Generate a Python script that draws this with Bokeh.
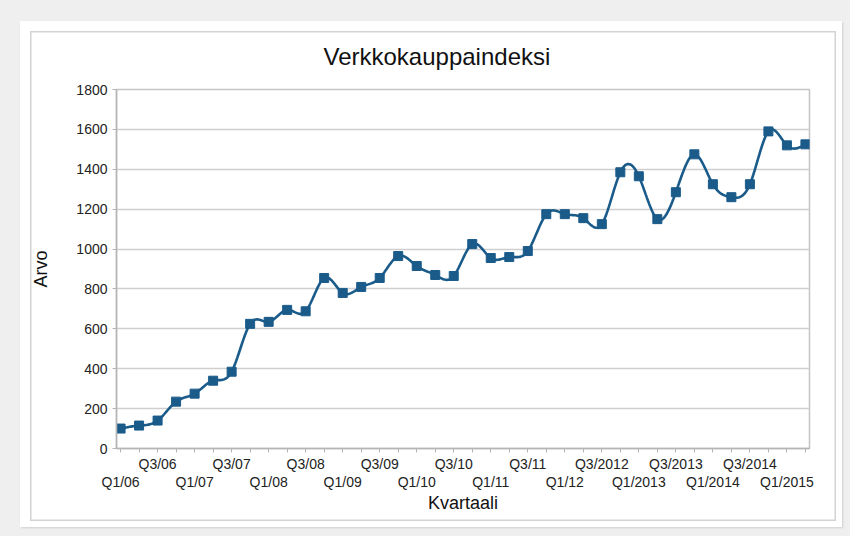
import numpy as np
from bokeh.plotting import figure
from bokeh.models import LinearAxis, FixedTicker, Range1d, ColumnDataSource
from bokeh.layouts import column
from bokeh.embed import file_html
from bokeh.resources import INLINE

# ---- data ----
values = [100, 115, 140, 235, 275, 340, 385, 625, 635, 695,
          688, 855, 780, 810, 855, 965, 915, 870, 865, 1025,
          955, 960, 990, 1175, 1175, 1155, 1125, 1385, 1365, 1150,
          1285, 1475, 1325, 1260, 1325, 1590, 1520, 1525]
q1_labels = ["Q1/06", "Q1/07", "Q1/08", "Q1/09", "Q1/10", "Q1/11", "Q1/12",
             "Q1/2013", "Q1/2014", "Q1/2015"]
q3_labels = ["Q3/06", "Q3/07", "Q3/08", "Q3/09", "Q3/10", "Q3/11", "Q3/2012",
             "Q3/2013", "Q3/2014"]
y_ticks = [0, 200, 400, 600, 800, 1000, 1200, 1400, 1600, 1800]

title_text = "Verkkokauppaindeksi"
x_title = "Kvartaali"
y_title = "Arvo"

FONT = "Liberation Sans"
BLUE = "#1a5b8a"
W, H = 822, 506

n = len(values)
xs = np.arange(n, dtype=float)
ys = np.array(values, dtype=float)

# natural cubic spline for the smoothed line through the points
A = np.zeros((n, n))
b = np.zeros(n)
A[0, 0] = 1
A[-1, -1] = 1
for i in range(1, n - 1):
    A[i, i - 1] = 1
    A[i, i] = 4
    A[i, i + 1] = 1
    b[i] = 6 * (ys[i + 1] - 2 * ys[i] + ys[i - 1])
M = np.linalg.solve(A, b)
sx, sy = [], []
for i in range(n - 1):
    for t in np.linspace(0, 1, 16, endpoint=False):
        sx.append(i + t)
        sy.append((1 - t) * ys[i] + t * ys[i + 1]
                  + ((1 - t) ** 3 - (1 - t)) * M[i] / 6
                  + (t ** 3 - t) * M[i + 1] / 6)
sx.append(xs[-1])
sy.append(ys[-1])

p = figure(width=W, height=H, output_backend="svg", toolbar_location=None,
           x_range=Range1d(-0.22, n - 1 + 0.22), y_range=Range1d(0, 1800),
           x_axis_type=None,
           min_border_left=96, min_border_right=33, min_border_top=67, min_border_bottom=79,
           background_fill_color="white", border_fill_color=None,
           outline_line_color="#c4c4c4", outline_line_width=1.5)

p.title.text = title_text
p.title.text_font = FONT
p.title.text_font_size = "24px"
p.title.text_font_style = "normal"
p.title.text_color = "#111111"
p.title.align = "left"
p.title.offset = 207
p.title.standoff = 39

# y axis
ya = p.yaxis[0]
ya.ticker = FixedTicker(ticks=y_ticks)
ya.axis_label = y_title
ya.axis_label_text_font = FONT
ya.axis_label_text_font_size = "18px"
ya.axis_label_text_font_style = "normal"
ya.axis_label_text_color = "#111111"
ya.axis_label_standoff = 22
ya.major_label_text_font = FONT
ya.major_label_text_font_size = "14px"
ya.major_label_text_color = "#222222"
ya.major_label_standoff = 5
ya.major_tick_in = 0
ya.major_tick_out = 4
ya.minor_tick_line_color = None
ya.axis_line_color = "#b5b5b5"
ya.axis_line_width = 1.5
ya.major_tick_line_color = "#b5b5b5"

p.ygrid.ticker = FixedTicker(ticks=y_ticks)
p.ygrid.grid_line_color = "#cfcfcf"
p.ygrid.grid_line_width = 1.5

# x axis (upper row: Q3 labels, tick at every quarter)
q1_idx = [i for i in range(0, n, 4)][:len(q1_labels)]
q3_idx = [i for i in range(2, n, 4)][:len(q3_labels)]

over_a = {i: "" for i in range(n)}
for i, lab in zip(q3_idx, q3_labels):
    over_a[i] = lab
ax_a = LinearAxis(ticker=FixedTicker(ticks=list(range(n))),
                  major_label_overrides=over_a)
ax_a.major_tick_in = 0
ax_a.major_tick_out = 4
ax_a.minor_tick_line_color = None
ax_a.axis_line_color = "#b5b5b5"
ax_a.axis_line_width = 1.5
ax_a.major_tick_line_color = "#b5b5b5"
ax_a.major_label_text_font = FONT
ax_a.major_label_text_font_size = "14px"
ax_a.major_label_text_color = "#222222"
ax_a.major_label_standoff = 3
p.add_layout(ax_a, "below")

over_b = {i: "" for i in q1_idx}
for i, lab in zip(q1_idx, q1_labels):
    over_b[i] = lab
ax_b = LinearAxis(ticker=FixedTicker(ticks=q1_idx), major_label_overrides=over_b)
ax_b.major_tick_in = 0
ax_b.major_tick_out = 0
ax_b.major_tick_line_color = None
ax_b.minor_tick_line_color = None
ax_b.axis_line_color = None
ax_b.major_label_text_font = FONT
ax_b.major_label_text_font_size = "14px"
ax_b.major_label_text_color = "#222222"
ax_b.major_label_standoff = -1
ax_b.axis_label = x_title
ax_b.axis_label_text_font = FONT
ax_b.axis_label_text_font_size = "18px"
ax_b.axis_label_text_font_style = "normal"
ax_b.axis_label_text_color = "#111111"
ax_b.axis_label_standoff = 0
p.add_layout(ax_b, "below")

line_src = ColumnDataSource(dict(x=sx, y=sy))
pt_src = ColumnDataSource(dict(x=list(xs), y=values))
p.line("x", "y", source=line_src, line_color=BLUE, line_width=2.6)
p.scatter("x", "y", source=pt_src, marker="square", size=9,
          fill_color=BLUE, line_color=BLUE)

# white card with a thin inner frame line, drawn by CSS behind the transparent canvas
p.styles = {"background-color": "white",
            "box-shadow": "inset 2px 2px 0 8px white, inset 2px 2px 0 9.5px #d3d3d3, "
                          "1px 1px 2px #cfcfcf"}
outer = column(p, styles={"background-color": "#efefef", "padding": "21px 8px 9px 20px"})

open("out.html", "w").write(file_html(outer, INLINE))
